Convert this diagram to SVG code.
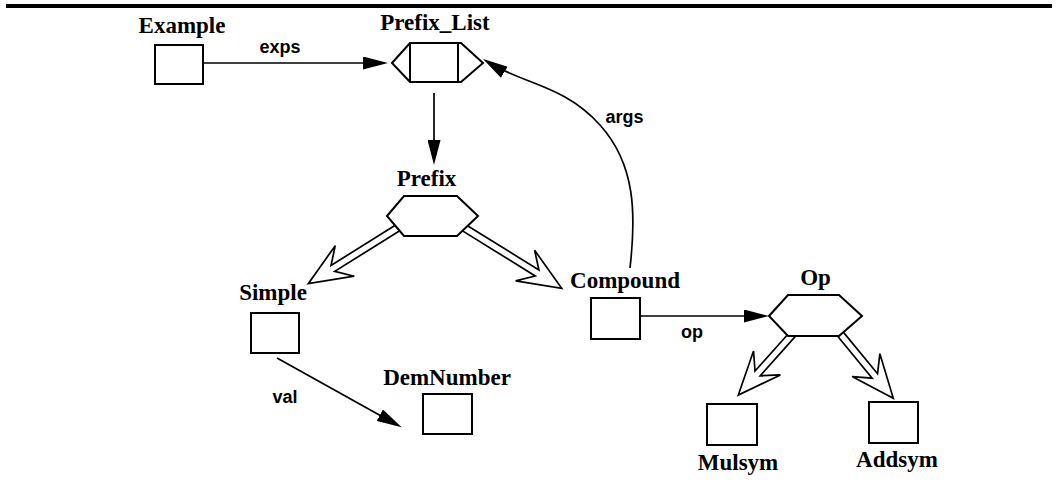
<svg xmlns="http://www.w3.org/2000/svg" width="1058" height="484" viewBox="0 0 1058 484">
<style>
.box{fill:#fff;stroke:#000;stroke-width:2}
.hex{fill:#fff;stroke:#000;stroke-width:2;stroke-linejoin:miter}
.ln{fill:none;stroke:#000;stroke-width:1.7}
.hol{fill:#fff;stroke:#000;stroke-width:1.7;stroke-linejoin:miter}
.nl{font-family:"Liberation Serif","Times New Roman",serif;font-weight:bold;font-size:23px;text-anchor:middle;fill:#000}
.el{font-family:"Liberation Sans",Arial,sans-serif;font-weight:bold;font-size:18px;text-anchor:middle;fill:#000}
</style>
<defs>
<marker id="ah" markerUnits="userSpaceOnUse" viewBox="0 0 25 13" markerWidth="25" markerHeight="13" refX="20" refY="6.5" orient="auto">
<path d="M0,0 L25,6.5 L0,13 z" fill="#000"/>
</marker>
</defs>
<rect x="6" y="4" width="1046" height="4" fill="#000"/>
<g id="connectors">
<path class="ln" d="M203,63 H383" marker-end="url(#ah)"/>
<path class="ln" d="M434,93 V160" marker-end="url(#ah)"/>
<path class="ln" d="M640,316 H764" marker-end="url(#ah)"/>
<path class="ln" d="M277,358 L397.3,424.9" marker-end="url(#ah)"/>
<path class="ln" d="M630,268 C636,215 636,165 600,125 S525,85 487.3,61.7" marker-end="url(#ah)"/>
<path class="hol" d="M399.25,222.83 L331.05,265.39 L335.24,245.69 L308.3,283.7 L354.28,276.21 L334.75,271.33 L402.95,228.77"/>
<path class="hol" d="M458.95,228.64 L535.21,275.98 L515.67,280.91 L561.7,288.3 L534.65,250.33 L538.91,270.04 L462.65,222.7"/>
<path class="hol" d="M793.72,327.7 L755.01,371.04 L753.52,350.94 L738.3,395 L780.38,374.92 L760.23,375.7 L798.94,332.36"/>
<path class="hol" d="M834.21,332.05 L872.16,378.14 L852.06,376.54 L893.3,398.3 L879.86,353.66 L877.56,373.69 L839.61,327.6"/>
<text class="el" x="280" y="53">exps</text>
<text class="el" x="624.5" y="123">args</text>
<text class="el" x="692" y="338">op</text>
<text class="el" x="285" y="403">val</text>
</g>
<g id="Example">
<rect class="box" x="155" y="45" width="48" height="39"/>
<text class="nl" x="182" y="33">Example</text>
</g>
<g id="Prefix_List">
<polygon class="hex" points="392,63 410,43 461,43 483,63 461,82 410,82"/>
<line class="ln" x1="410" y1="43" x2="410" y2="82" style="stroke-width:2"/>
<line class="ln" x1="458" y1="43" x2="458" y2="82" style="stroke-width:2"/>
<text class="nl" x="435" y="30">Prefix_List</text>
</g>
<g id="Prefix">
<polygon class="hex" points="387,216 404,196 457,196 478,216 457,236 404,236"/>
<text class="nl" x="426.5" y="186">Prefix</text>
</g>
<g id="Simple">
<rect class="box" x="251" y="313" width="48" height="40"/>
<text class="nl" x="273" y="300">Simple</text>
</g>
<g id="Compound">
<rect class="box" x="591" y="298" width="49" height="41"/>
<text class="nl" x="625" y="288">Compound</text>
</g>
<g id="Op">
<polygon class="hex" points="769,316 788,295 839,295 862,316 839,336 788,336"/>
<text class="nl" x="815.5" y="285">Op</text>
</g>
<g id="DemNumber">
<rect class="box" x="423" y="394" width="49" height="40"/>
<text class="nl" x="447" y="385">DemNumber</text>
</g>
<g id="Mulsym">
<rect class="box" x="707" y="404" width="50" height="41"/>
<text class="nl" x="738" y="470">Mulsym</text>
</g>
<g id="Addsym">
<rect class="box" x="869" y="402" width="49" height="41"/>
<text class="nl" x="897" y="467">Addsym</text>
</g>
</svg>
